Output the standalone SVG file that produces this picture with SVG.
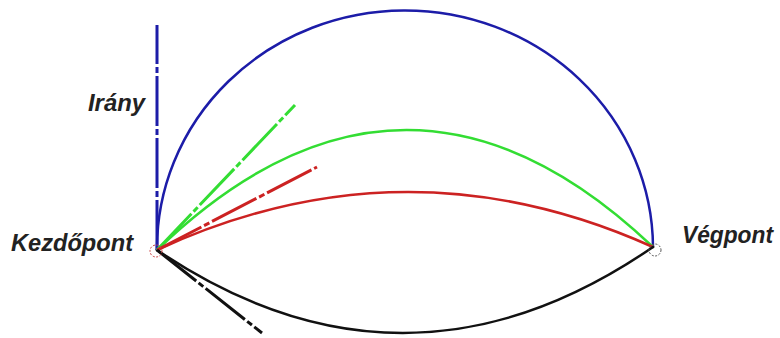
<svg xmlns="http://www.w3.org/2000/svg" width="780" height="338" viewBox="0 0 780 338">
<style>
.lbl{font-family:"Liberation Sans",Arial,sans-serif;font-weight:bold;font-style:italic;font-size:23px;fill:#222}
.c{fill:none;stroke-width:2.5;stroke-linecap:round}
.t{fill:none;stroke-width:3;stroke-dasharray:50 3 6 3}
</style>
<rect width="780" height="338" fill="#fff"/>
<g id="connectors">
<path id="blue-arc" class="c" stroke="#1c1ca8" d="M157,250 A248,238 0 0 1 653,247"/>
<path id="green-arc" class="c" stroke="#33dd33" stroke-width="3" d="M157,250 Q405,11.5 653,247"/>
<path id="red-arc" class="c" stroke="#cc2222" d="M157,250 Q405,135.5 653,247"/>
<path id="black-arc" class="c" stroke="#111" d="M157,250 Q405,417.5 653,247"/>
<line id="blue-tangent" class="t" stroke="#1c1ca8" stroke-width="3" x1="157" y1="250" x2="157" y2="25"/>
<line id="green-tangent" class="t" stroke="#33dd33" stroke-width="4" stroke-dasharray="70 3 30 3" x1="157" y1="250" x2="295" y2="105"/>
<line id="red-tangent" class="t" stroke="#cc2222" stroke-width="2.5" stroke-dasharray="40 3 6 3" x1="157" y1="250" x2="317" y2="167"/>
<line id="black-tangent" class="t" stroke="#111" stroke-width="3.5" stroke-dasharray="55 3 10 3" x1="157" y1="250" x2="262" y2="333"/>
</g>
<g id="start">
<circle cx="156" cy="251" r="6" fill="none" stroke="#c44" stroke-width="1" stroke-dasharray="2 1.5"/>
<text class="lbl" x="11" y="251" textLength="122" lengthAdjust="spacingAndGlyphs">Kezdőpont</text>
</g>
<g id="end">
<circle cx="655" cy="250" r="6" fill="none" stroke="#555" stroke-width="1" stroke-dasharray="2 1.5"/>
<text class="lbl" x="682" y="243" textLength="91" lengthAdjust="spacingAndGlyphs">Végpont</text>
</g>
<g id="direction">
<text class="lbl" x="88" y="111" textLength="57" lengthAdjust="spacingAndGlyphs">Irány</text>
</g>
</svg>
